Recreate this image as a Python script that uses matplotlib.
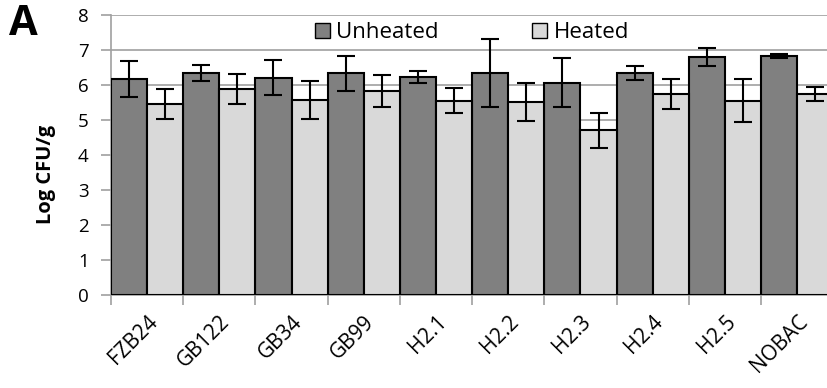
import matplotlib.pyplot as plt
import numpy as np

plt.rcParams['font.family'] = ['Open Sans', 'DejaVu Sans']

# data
strains = ["FZB24", "GB122", "GB34", "GB99", "H2.1", "H2.2", "H2.3", "H2.4", "H2.5", "NOBAC"]
unheated = [6.17, 6.34, 6.21, 6.34, 6.24, 6.35, 6.06, 6.35, 6.81, 6.83]
unheated_err = [0.51, 0.23, 0.49, 0.50, 0.17, 0.97, 0.70, 0.20, 0.26, 0.05]
heated = [5.45, 5.89, 5.57, 5.83, 5.55, 5.51, 4.71, 5.75, 5.55, 5.74]
heated_err = [0.43, 0.43, 0.55, 0.46, 0.36, 0.55, 0.50, 0.43, 0.62, 0.20]

fig = plt.figure(figsize=(8.28, 3.88), dpi=100)
# axes runs slightly past the right edge, like the cropped original
ax = fig.add_axes([0.134, 0.2405, 0.8724, 0.7207])

x = np.arange(len(strains))
w = 0.5
err_kw = dict(ecolor='black', elinewidth=1.5, capsize=6.5, capthick=1.5)

ax.bar(x - w / 2, unheated, w, yerr=unheated_err, color='#808080',
       edgecolor='black', linewidth=1.5, label='Unheated', error_kw=err_kw, zorder=3)
ax.bar(x + w / 2, heated, w, yerr=heated_err, color='#d9d9d9',
       edgecolor='black', linewidth=1.5, label='Heated', error_kw=err_kw, zorder=3)

ax.set_xlim(-0.5, len(strains) - 0.5)
ax.set_ylim(0, 8)
ax.set_yticks(range(0, 9))
ax.yaxis.grid(True, color='#a0a0a0', linewidth=1.2, zorder=0)
ax.set_axisbelow(True)

# category boundary ticks, labels in between
ax.set_xticks(np.arange(len(strains)) - 0.5, minor=False)
ax.set_xticklabels([])
ax.set_xticks(x, minor=True)
ax.set_xticklabels(strains, minor=True, rotation=45, ha='right',
                   rotation_mode='anchor', fontsize=15)
ax.tick_params(axis='x', which='minor', length=0, pad=12)
ax.tick_params(axis='x', which='major', length=7, color='#a0a0a0', width=1.2)
ax.tick_params(axis='y', length=7, color='#a0a0a0', width=1.2, labelsize=13.5, pad=9)

ax.spines['top'].set_color('none')
ax.spines['right'].set_color('none')
ax.spines['left'].set_color('#a0a0a0')
ax.spines['bottom'].set_color('#a0a0a0')
ax.spines['left'].set_linewidth(1.2)
ax.spines['bottom'].set_linewidth(1.2)

fig.text(0.056, 0.55, 'Log CFU/g', fontsize=14.5, fontweight='bold',
         rotation=90, ha='center', va='center')

leg = fig.legend(loc='center left', bbox_to_anchor=(315 / 828, 1 - 33 / 388), ncol=2,
                 frameon=False, fontsize=16, handlelength=0.66, handleheight=0.66,
                 columnspacing=4.2, handletextpad=0.3, borderaxespad=0, borderpad=0)
for h in leg.legend_handles:
    h.set_linewidth(1)

fig.text(0.011, 0.99, 'A', fontsize=30, fontweight='bold', va='top')

fig.savefig('out.png', dpi=100)
